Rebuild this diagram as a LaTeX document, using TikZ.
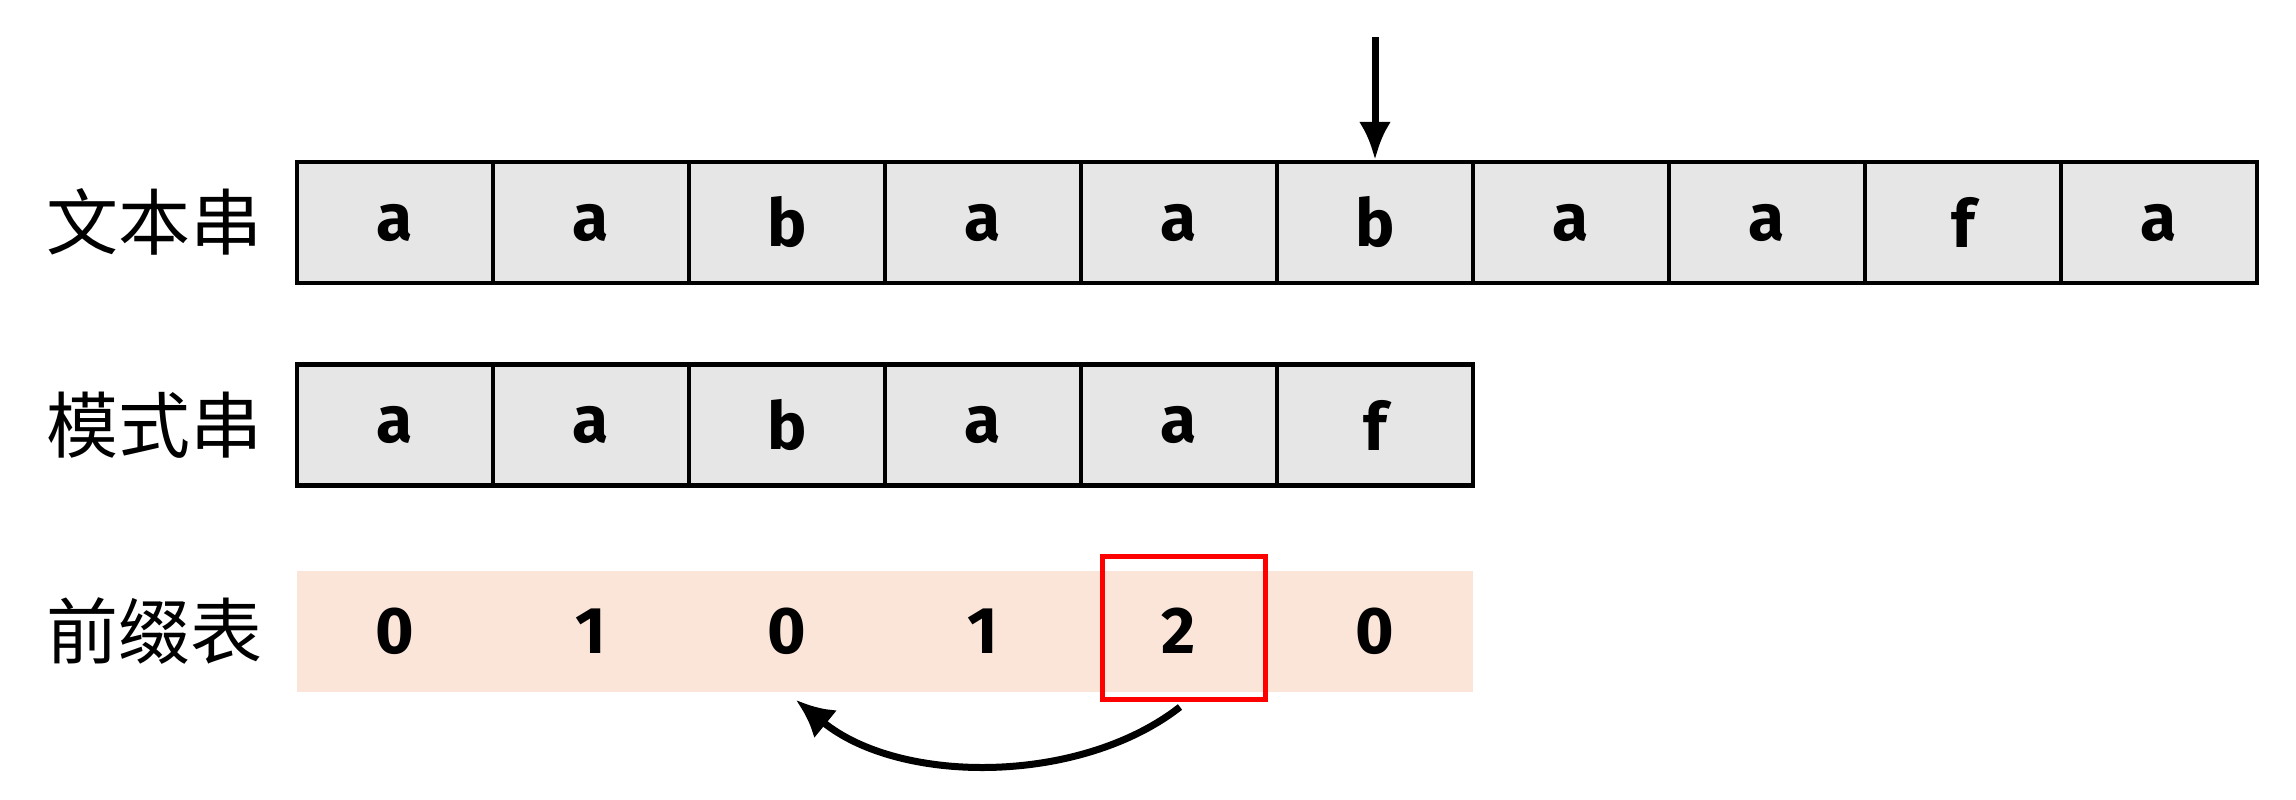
\documentclass[tikz,border=0pt]{standalone}
\usepackage{fontspec}
\usetikzlibrary{arrows.meta}
\setmainfont{Fira Sans}
\newfontfamily\cjk{Noto Sans CJK SC}
\definecolor{peach}{RGB}{250,229,216}
\definecolor{cellgray}{RGB}{230,230,230}
\begin{document}
\begin{tikzpicture}[x=1pt,y=-1pt,
 cell/.style={draw=black,line width=4.5pt,fill=cellgray,minimum width=196pt,minimum height=121pt,inner sep=0pt,font=\fontsize{66}{66}\selectfont\bfseries},
 pcell/.style={fill=peach,minimum width=196pt,minimum height=121pt,inner sep=0pt,font=\fontsize{66}{66}\selectfont\bfseries},
 lab/.style={font=\cjk\fontsize{72}{72}\selectfont}]
\useasboundingbox (0,0) rectangle (2296,800);
\foreach \c [count=\i] in {a,a,b,a,a,b,a,a,f,a}
  \node[cell] (t\i) at (297+196*\i-98,222.5) {\c};
\foreach \c [count=\i] in {a,a,b,a,a,f}
  \node[cell] (p\i) at (297+196*\i-98,425) {\c};
\foreach \c [count=\i] in {0,1,0,1,2,0}
  \node[pcell] (n\i) at (297+196*\i-98,631) {\c};
\node[lab] (l1) at (154,222) {文本串};
\node[lab] (l2) at (154,425) {模式串};
\node[lab] (l3) at (154,631) {前缀表};
\node[draw=red,line width=5pt,minimum width=163pt,minimum height=143pt,inner sep=0pt] (r) at (1183.5,627.5) {};
\coordinate (top) at (1385,37);
\draw[line width=7pt,-{Latex[length=38pt,width=32pt]}] (t6.north |- top) -- (t6.north);
\coordinate (cs) at (1180,707);
\coordinate (ce) at (796,700);
\draw[line width=7pt,-{Latex[length=38pt,width=36pt]}] (cs) .. controls (1080,785) and (900,785) .. (ce);
\end{tikzpicture}
\end{document}
